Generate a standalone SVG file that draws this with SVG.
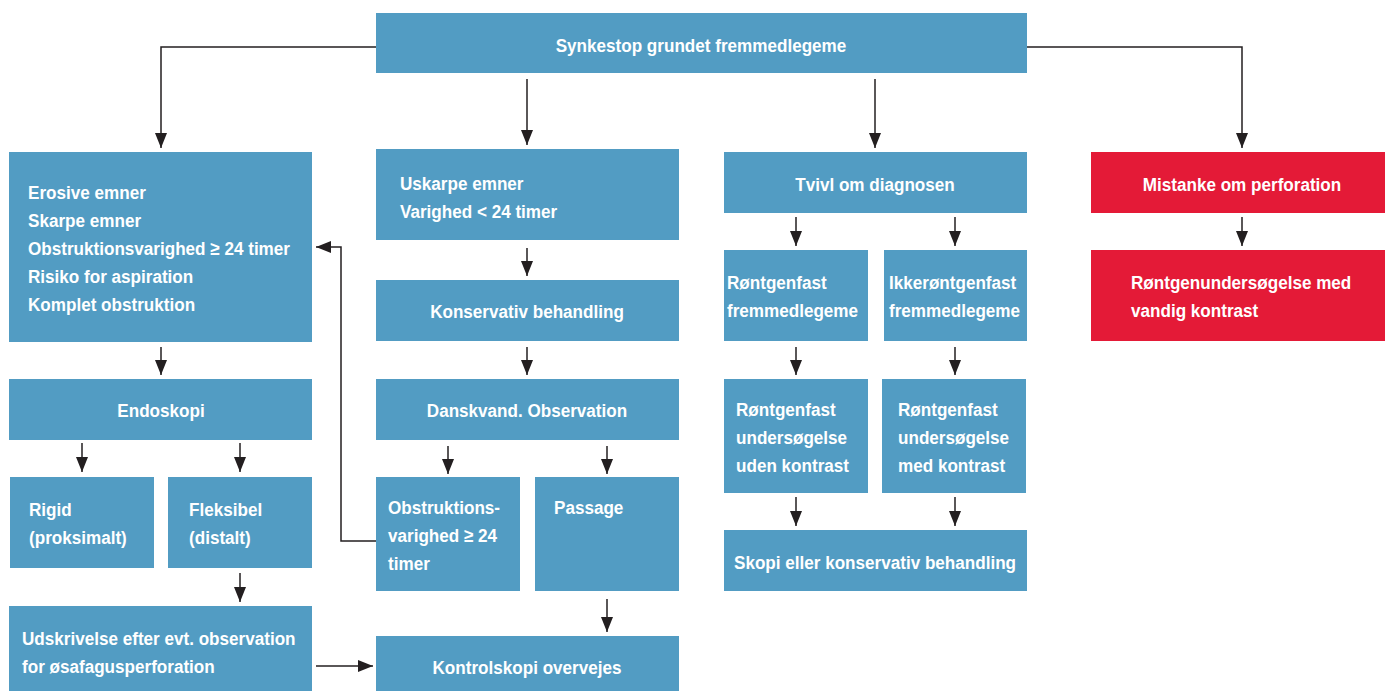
<svg xmlns="http://www.w3.org/2000/svg" width="1385" height="691" viewBox="0 0 1385 691">
<style>
.b{fill:#529cc3}
.r{fill:#e41a37}
text{font-family:"Liberation Sans",Arial,sans-serif;font-weight:bold;font-size:19px;fill:#ffffff}
.c{text-anchor:middle}
.ln{fill:none;stroke:#231f20;stroke-width:1.5}
</style>
<defs>
<marker id="ah" markerUnits="userSpaceOnUse" markerWidth="16" markerHeight="12" refX="15" refY="6" orient="auto">
<path d="M0,0 L15,6 L0,12 z" fill="#231f20"/>
</marker>
</defs>
<rect width="1385" height="691" fill="#ffffff"/>
<g id="connectors">
<path class="ln" d="M376,47 H161 V148" marker-end="url(#ah)"/>
<path class="ln" d="M1027,47 H1242 V148" marker-end="url(#ah)"/>
<path class="ln" d="M527,79 V145" marker-end="url(#ah)"/>
<path class="ln" d="M875,79 V148" marker-end="url(#ah)"/>
<path class="ln" d="M527,248 V276" marker-end="url(#ah)"/>
<path class="ln" d="M796,217 V246" marker-end="url(#ah)"/>
<path class="ln" d="M955,217 V246" marker-end="url(#ah)"/>
<path class="ln" d="M1242,217 V246" marker-end="url(#ah)"/>
<path class="ln" d="M161,347 V375" marker-end="url(#ah)"/>
<path class="ln" d="M527,347 V375" marker-end="url(#ah)"/>
<path class="ln" d="M796,347 V375" marker-end="url(#ah)"/>
<path class="ln" d="M955,347 V375" marker-end="url(#ah)"/>
<path class="ln" d="M82,443 V472" marker-end="url(#ah)"/>
<path class="ln" d="M240,443 V472" marker-end="url(#ah)"/>
<path class="ln" d="M448,446 V474" marker-end="url(#ah)"/>
<path class="ln" d="M607,446 V474" marker-end="url(#ah)"/>
<path class="ln" d="M796,497 V526" marker-end="url(#ah)"/>
<path class="ln" d="M955,497 V526" marker-end="url(#ah)"/>
<path class="ln" d="M240,573 V602" marker-end="url(#ah)"/>
<path class="ln" d="M607,599 V632" marker-end="url(#ah)"/>
<path class="ln" d="M316,666 H373" marker-end="url(#ah)"/>
<path class="ln" d="M376,541 H341 V247 H316" marker-end="url(#ah)"/>
</g>
<g id="n-top"><rect class="b" x="376" y="13" width="651" height="60"/><g transform="translate(701,0) scale(0.9,1)"><text class="c" x="0" y="52">Synkestop grundet fremmedlegeme</text></g></g>
<g id="n-erosive"><rect class="b" x="9" y="152" width="303" height="190"/><g transform="translate(28,0) scale(0.9,1)">
<text x="0" y="199">Erosive emner</text><text x="0" y="227">Skarpe emner</text><text x="0" y="255">Obstruktionsvarighed ≥ 24 timer</text><text x="0" y="283">Risiko for aspiration</text><text x="0" y="311">Komplet obstruktion</text></g></g>
<g id="n-uskarpe"><rect class="b" x="376" y="149" width="303" height="91"/><g transform="translate(400,0) scale(0.9,1)"><text x="0" y="190">Uskarpe emner</text><text x="0" y="218">Varighed &lt; 24 timer</text></g></g>
<g id="n-tvivl"><rect class="b" x="724" y="152" width="303" height="61"/><g transform="translate(875,0) scale(0.9,1)"><text class="c" x="0" y="191">Tvivl om diagnosen</text></g></g>
<g id="n-mistanke"><rect class="r" x="1091" y="152" width="294" height="61"/><g transform="translate(1242,0) scale(0.9,1)"><text class="c" x="0" y="191">Mistanke om perforation</text></g></g>
<g id="n-konservativ"><rect class="b" x="376" y="280" width="303" height="61"/><g transform="translate(527,0) scale(0.9,1)"><text class="c" x="0" y="318">Konservativ behandling</text></g></g>
<g id="n-rontgenfast"><rect class="b" x="724" y="250" width="144" height="91"/><g transform="translate(727,0) scale(0.9,1)"><text x="0" y="289">Røntgenfast</text><text x="0" y="317">fremmedlegeme</text></g></g>
<g id="n-ikke"><rect class="b" x="884" y="250" width="143" height="91"/><g transform="translate(889,0) scale(0.9,1)"><text x="0" y="289">Ikkerøntgenfast</text><text x="0" y="317">fremmedlegeme</text></g></g>
<g id="n-rontgenus"><rect class="r" x="1091" y="250" width="294" height="91"/><g transform="translate(1131,0) scale(0.9,1)"><text x="0" y="289">Røntgenundersøgelse med</text><text x="0" y="317">vandig kontrast</text></g></g>
<g id="n-endoskopi"><rect class="b" x="9" y="379" width="303" height="61"/><g transform="translate(161,0) scale(0.9,1)"><text class="c" x="0" y="417">Endoskopi</text></g></g>
<g id="n-danskvand"><rect class="b" x="376" y="379" width="303" height="61"/><g transform="translate(527,0) scale(0.9,1)"><text class="c" x="0" y="417">Danskvand. Observation</text></g></g>
<g id="n-uden"><rect class="b" x="724" y="379" width="144" height="114"/><g transform="translate(736,0) scale(0.9,1)"><text x="0" y="416">Røntgenfast</text><text x="0" y="444">undersøgelse</text><text x="0" y="472">uden kontrast</text></g></g>
<g id="n-med"><rect class="b" x="882" y="379" width="144" height="114"/><g transform="translate(898,0) scale(0.9,1)"><text x="0" y="416">Røntgenfast</text><text x="0" y="444">undersøgelse</text><text x="0" y="472">med kontrast</text></g></g>
<g id="n-rigid"><rect class="b" x="10" y="477" width="144" height="91"/><g transform="translate(29,0) scale(0.9,1)"><text x="0" y="516">Rigid</text><text x="0" y="544">(proksimalt)</text></g></g>
<g id="n-fleksibel"><rect class="b" x="168" y="477" width="144" height="91"/><g transform="translate(189,0) scale(0.9,1)"><text x="0" y="516">Fleksibel</text><text x="0" y="544">(distalt)</text></g></g>
<g id="n-obstr"><rect class="b" x="376" y="477" width="144" height="114"/><g transform="translate(388,0) scale(0.9,1)"><text x="0" y="514">Obstruktions-</text><text x="0" y="542">varighed ≥ 24</text><text x="0" y="570">timer</text></g></g>
<g id="n-passage"><rect class="b" x="535" y="477" width="144" height="114"/><g transform="translate(554,0) scale(0.9,1)"><text x="0" y="514">Passage</text></g></g>
<g id="n-skopi"><rect class="b" x="724" y="530" width="303" height="61"/><g transform="translate(875,0) scale(0.9,1)"><text class="c" x="0" y="569">Skopi eller konservativ behandling</text></g></g>
<g id="n-udskrivelse"><rect class="b" x="9" y="606" width="303" height="85"/><g transform="translate(22,0) scale(0.9,1)"><text x="0" y="645">Udskrivelse efter evt. observation</text><text x="0" y="673">for øsafagusperforation</text></g></g>
<g id="n-kontrol"><rect class="b" x="376" y="636" width="303" height="55"/><g transform="translate(527,0) scale(0.9,1)"><text class="c" x="0" y="674">Kontrolskopi overvejes</text></g></g>
</svg>
